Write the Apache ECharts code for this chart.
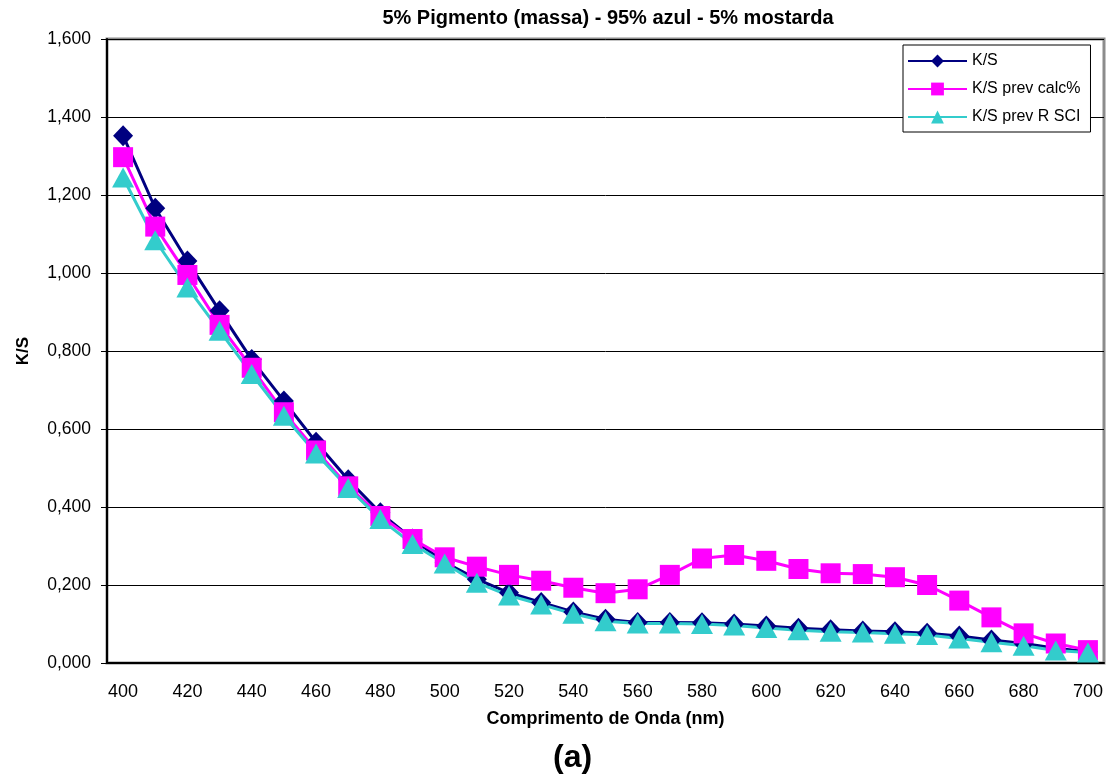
<!DOCTYPE html>
<html>
<head>
<meta charset="utf-8">
<script src="https://cdn.jsdelivr.net/npm/echarts@6/dist/echarts.min.js"></script>
<style>
html,body{margin:0;padding:0;background:#fff;}
#chart{width:1109px;height:776px;}
</style>
</head>
<body>
<div id="chart"></div>
<script>
const wavelengths = ['400','410','420','430','440','450','460','470','480','490','500','510','520','530','540','550','560','570','580','590','600','610','620','630','640','650','660','670','680','690','700'];
const ksValues = [1.352,1.166,1.031,0.903,0.778,0.672,0.566,0.470,0.385,0.318,0.258,0.215,0.180,0.155,0.131,0.112,0.104,0.104,0.103,0.100,0.095,0.089,0.085,0.082,0.080,0.076,0.069,0.059,0.050,0.038,0.029];
const ksCalcValues = [1.297,1.119,0.995,0.867,0.757,0.643,0.545,0.453,0.377,0.318,0.271,0.247,0.226,0.211,0.193,0.179,0.189,0.226,0.268,0.277,0.262,0.241,0.230,0.228,0.220,0.200,0.160,0.117,0.076,0.050,0.033];
const ksSciValues = [1.245,1.084,0.963,0.852,0.741,0.634,0.537,0.449,0.369,0.305,0.255,0.206,0.173,0.150,0.126,0.107,0.101,0.101,0.100,0.096,0.090,0.084,0.080,0.078,0.075,0.072,0.063,0.053,0.044,0.032,0.027];
const seriesNames = ['K/S','K/S prev calc%','K/S prev R SCI'];
const titleText = '5% Pigmento (massa) - 95% azul - 5% mostarda';
const xName = 'Comprimento de Onda (nm)';
const yName = 'K/S';
const captionText = '(a)';

const FONT = 'Arial, "Liberation Sans", sans-serif';
const chart = echarts.init(document.getElementById('chart'), null, {renderer:'canvas'});
chart.setOption({
  backgroundColor:'#fff',
  animation:false,
  title:{
    text:titleText, left:603, top:3, textAlign:'center',
    textStyle:{fontFamily:FONT, fontSize:20, fontWeight:'bold', color:'#000'}
  },
  legend:{
    orient:'vertical', left:903, top:45,
    padding:[8,10,7,4],
    itemWidth:59, itemHeight:16, itemGap:12,
    borderColor:'#000', borderWidth:1, backgroundColor:'#fff',
    textStyle:{fontFamily:FONT, fontSize:16, color:'#000'},
    data:seriesNames
  },
  grid:{left:107, right:5, top:39, bottom:113, show:true, borderColor:'#8c8c8c', borderWidth:3, backgroundColor:'transparent'},
  xAxis:{
    type:'category', data:wavelengths, boundaryGap:true,
    name:xName, nameLocation:'middle', nameGap:47,
    nameTextStyle:{fontFamily:FONT, fontSize:18, fontWeight:'bold', color:'#000'},
    axisLine:{lineStyle:{color:'#000', width:2}},
    axisTick:{interval:0, length:6, lineStyle:{color:'#000', width:1}},
    axisLabel:{interval:1, margin:20, fontFamily:FONT, fontSize:18, color:'#000'},
    splitLine:{show:false}
  },
  yAxis:{
    type:'value', min:0, max:1.6, interval:0.2,
    name:yName, nameLocation:'middle', nameGap:75,
    nameTextStyle:{fontFamily:FONT, fontSize:17, fontWeight:'bold', color:'#000'},
    axisLine:{show:true, lineStyle:{color:'#000', width:2}},
    axisTick:{show:true, length:6, lineStyle:{color:'#000', width:1}},
    axisLabel:{margin:16, fontFamily:FONT, fontSize:17.5, color:'#000',
      formatter:v=>v.toFixed(3).replace('.',',')},
    splitLine:{lineStyle:{color:'#000', width:1}}
  },
  graphic:[{
    type:'text', left:553, top:742,
    style:{text:captionText, font:'bold 32px '+FONT, fill:'#000', textAlign:'center'}
  }],
  series:[
    {name:seriesNames[0], type:'line', data:ksValues, symbol:'diamond', symbolSize:[20,21],
      lineStyle:{color:'#000080', width:3}, itemStyle:{color:'#000080'}, emphasis:{disabled:true}},
    {name:seriesNames[1], type:'line', data:ksCalcValues, symbol:'rect', symbolSize:20,
      lineStyle:{color:'#ff00ff', width:3}, itemStyle:{color:'#ff00ff'}, emphasis:{disabled:true}},
    {name:seriesNames[2], type:'line', data:ksSciValues, symbol:'triangle', symbolSize:[22,20],
      lineStyle:{color:'#33cccc', width:3}, itemStyle:{color:'#33cccc'}, emphasis:{disabled:true}}
  ]
});
</script>
</body>
</html>
